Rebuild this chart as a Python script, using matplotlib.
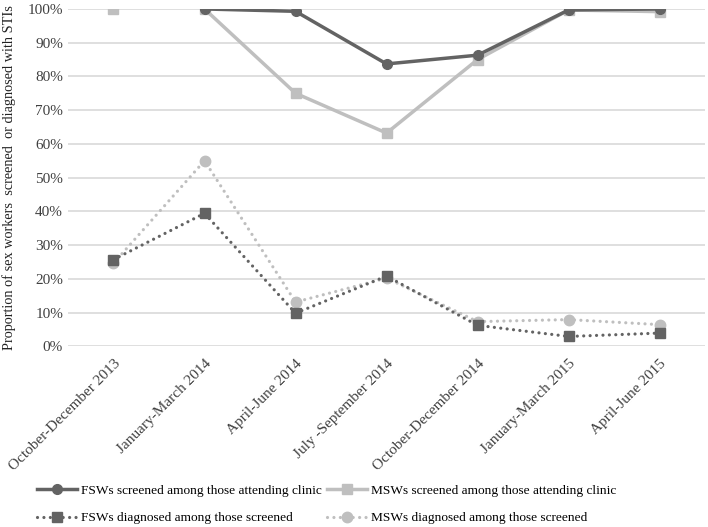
import matplotlib.pyplot as plt
import numpy as np

plt.rcParams['font.family'] = ['Liberation Serif', 'DejaVu Serif']

periods = ["October-December 2013", "January-March 2014", "April-June 2014",
           "July -September 2014", "October-December 2014", "January-March 2015",
           "April-June 2015"]

# percentages, nan = no value
fsw_screened = [np.nan, 100, 99.3, 83.7, 86.3, 99.7, 100]
msw_screened = [100, 100, 75, 63.2, 85, 99.7, 99.2]
fsw_diagnosed = [25.7, 39.4, 9.8, 20.8, 6.2, 2.9, 3.9]
msw_diagnosed = [24.6, 55, 13.1, 20.2, 7.3, 7.9, 6.4]

dark = '#636363'
light = '#bfbfbf'
dots = (0, (0.01, 2.0))

fig = plt.figure(figsize=(7.08, 5.27), dpi=100)
ax = fig.add_axes([0.096, 0.343, 0.9, 0.64])

x = np.arange(len(periods))

h1, = ax.plot(x, fsw_screened, color=dark, lw=2.5, marker='o', ms=7,
              label='FSWs screened among those attending clinic', zorder=4)
# first MSW point is not joined to the rest in the original
h2, = ax.plot(x[1:], msw_screened[1:], color=light, lw=2.5, marker='s', ms=7.5,
              label='MSWs screened among those attending clinic', zorder=3)
ax.plot(x[:1], msw_screened[:1], color=light, lw=0, marker='s', ms=7.5, zorder=3)
h3, = ax.plot(x, fsw_diagnosed, color=dark, lw=2.3, ls=dots,
              dash_capstyle='round', marker='s', ms=7.5,
              label='FSWs diagnosed among those screened', zorder=4)
h4, = ax.plot(x, msw_diagnosed, color=light, lw=2.3, ls=dots,
              dash_capstyle='round', marker='o', ms=7.5,
              label='MSWs diagnosed among those screened', zorder=3)

ax.set_xlim(-0.5, len(periods) - 0.5)
ax.set_ylim(0, 100)
ax.set_yticks(np.arange(0, 101, 10))
ax.set_yticklabels([f'{v}%' for v in range(0, 101, 10)])
ax.set_xticks(x)
ax.set_xticklabels(periods, rotation=45, ha='right', rotation_mode='anchor')
ax.tick_params(length=0, labelsize=11, colors='#404040')
ax.tick_params(axis='x', pad=8)
ax.grid(axis='y', color='#d9d9d9', lw=1.2)
ax.set_axisbelow(True)
for s in ax.spines.values():
    s.set_visible(False)
ax.set_ylabel('Proportion of sex workers  screened  or diagnosed with STIs',
              fontsize=10.3, color='#222222', labelpad=8)

# row-wise order: matplotlib fills legend columns first
fig.legend(handles=[h1, h3, h2, h4], loc='lower left',
           bbox_to_anchor=(0.035, -0.018), ncol=2, frameon=False,
           fontsize=9.6, handlelength=3.0, columnspacing=0.4,
           handletextpad=0.3, labelspacing=1.15)

fig.savefig('out.png', dpi=100)
